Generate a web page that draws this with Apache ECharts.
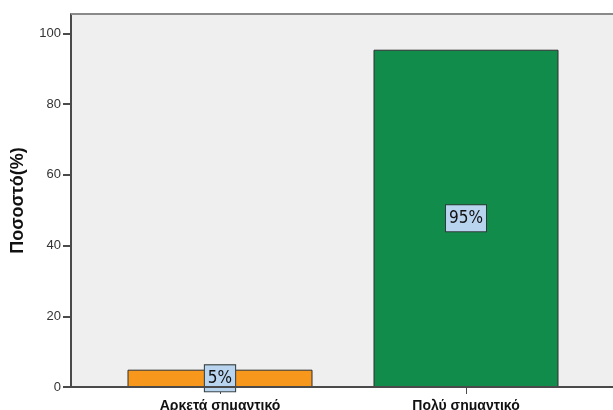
<!DOCTYPE html>
<html>
<head>
<meta charset="utf-8">
<script src="https://cdn.jsdelivr.net/npm/echarts@6/dist/echarts.min.js"></script>
<style>
    html, body { margin: 0; padding: 0; background: #fff; }
    #main { width: 613px; height: 410px; }
</style>
</head>
<body>
<div id="main"></div>
<script>
// data
var categories = ['Αρκετά σημαντικό', 'Πολύ σημαντικό'];
var percentValues = [4.9, 95.4];
var barColors = ['#f7981d', '#128c4a'];
var yTicks = [0, 20, 40, 60, 80, 100];

var myChart = echarts.init(document.getElementById('main'));

var barData = [];
for (var i = 0; i < percentValues.length; i++) {
    barData.push({
        value: percentValues[i],
        itemStyle: { color: barColors[i] }
    });
}

var option = {
    animation: false,
    backgroundColor: '#fff',
    grid: {
        left: 97,
        right: 24,
        top: 14,
        bottom: 23,
        outerBoundsMode: 'none',
        containLabel: false
    },
    // plot background + frame (the frame is wider than the category band)
    graphic: [
        {
            type: 'rect',
            z: -10,
            silent: true,
            shape: { x: 71, y: 14, width: 545, height: 373 },
            style: { fill: '#efefef' }
        },
        {
            type: 'line',
            z: 5,
            silent: true,
            shape: { x1: 71, y1: 14, x2: 613, y2: 14 },
            style: { stroke: '#8a8a8a', lineWidth: 2 }
        },
        {
            type: 'line',
            z: 5,
            silent: true,
            shape: { x1: 71, y1: 387, x2: 613, y2: 387 },
            style: { stroke: '#4a4a4a', lineWidth: 2 }
        }
    ],
    xAxis: {
        type: 'category',
        data: categories,
        axisLine: { show: false },
        axisTick: {
            show: true,
            alignWithLabel: true,
            length: 7,
            lineStyle: { color: '#4a4a4a', width: 1 }
        },
        axisLabel: {
            margin: 12,
            color: '#111',
            fontFamily: 'Liberation Sans',
            fontWeight: 'bold',
            fontSize: 14
        }
    },
    yAxis: {
        type: 'value',
        min: 0,
        max: 105.5,
        interval: 20,
        offset: 26,
        name: 'Ποσοστό(%)',
        nameLocation: 'middle',
        nameGap: 44,
        nameTextStyle: {
            color: '#111',
            fontFamily: 'Liberation Sans',
            fontWeight: 'bold',
            fontSize: 18
        },
        axisLine: {
            show: true,
            lineStyle: { color: '#4a4a4a', width: 2 }
        },
        axisTick: {
            show: true,
            length: 8,
            lineStyle: { color: '#4a4a4a', width: 2 }
        },
        axisLabel: {
            margin: 10,
            color: '#333',
            fontFamily: 'Liberation Sans',
            fontSize: 13,
            showMaxLabel: false,
            formatter: function (v) {
                return yTicks.indexOf(v) >= 0 ? String(v) : '';
            }
        },
        splitLine: { show: false }
    },
    series: [
        {
            type: 'bar',
            data: barData,
            barWidth: 185,
            itemStyle: {
                borderColor: '#2f2f2f',
                borderWidth: 1
            },
            label: {
                show: true,
                position: 'inside',
                formatter: function (p) {
                    return Math.round(p.value) + '%';
                },
                color: '#111',
                fontFamily: 'Liberation Sans Narrow, DejaVu Sans Condensed, sans-serif',
                fontSize: 17,
                lineHeight: 18,
                backgroundColor: '#b9d4ef',
                borderColor: '#2f3a3a',
                borderWidth: 1,
                padding: [5, 3, 3, 3]
            }
        }
    ]
};
myChart.setOption(option);

window.addEventListener('resize', function () {
    myChart.resize();
});
</script>
</body>
</html>
